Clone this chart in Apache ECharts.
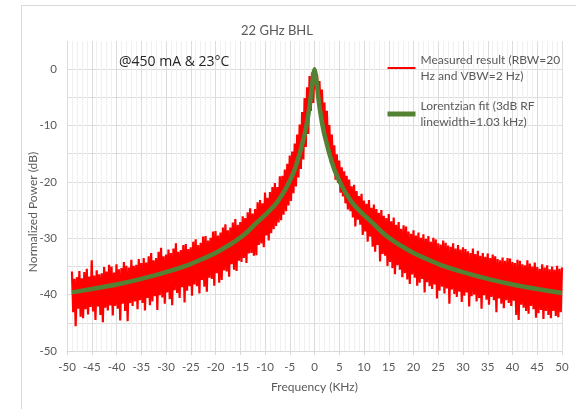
<!DOCTYPE html>
<html>
<head>
<meta charset="utf-8">
<script src="https://cdn.jsdelivr.net/npm/echarts@6/dist/echarts.min.js"></script>
<style>
html,body{margin:0;padding:0;background:#fff;}
#chart{width:576px;height:409px;}
</style>
</head>
<body>
<div id="chart"></div>
<script>
// ---- data ----
const chartTitle = '22 GHz BHL';
const note = '@450 mA & 23\u00B0C';
const xTitle = 'Frequency (KHz)';
const yTitle = 'Normalized Power (dB)';
const measuredName = 'Measured result (RBW=20\nHz and VBW=2 Hz)';
const fitName = 'Lorentzian fit (3dB RF\nlinewidth=1.03 kHz)';

// measured trace: first frequency and sample spacing (kHz)
const measuredStart = -49;
const measuredStep = 0.25;
// measured power (dB), one value every 0.25 kHz from -49 to 50 kHz
const measuredPower = [
-35.9,-43.1,-37.2,-45.6, -36.9,-42.5,-35.8,-43.9, -37.1,-44.2,-36.0,-42.6, -35.4,-43.5,-36.8,-42.2,
-33.9,-43.0,-36.6,-44.5, -35.7,-42.1,-36.4,-43.6, -36.2,-44.9,-35.1,-42.3, -35.9,-42.8,-34.7,-41.9,
-35.0,-43.7,-36.1,-42.0, -34.6,-42.5,-35.5,-44.6, -35.3,-41.6,-34.2,-42.9, -34.9,-44.7,-35.2,-41.5,
-33.8,-42.0,-34.9,-41.2, -34.7,-42.6,-33.7,-41.0, -34.4,-41.5,-33.5,-42.8, -34.3,-40.6,-33.2,-41.9,
-32.6,-41.2,-33.9,-40.3, -33.5,-42.7,-32.4,-40.1, -31.7,-40.5,-33.2,-41.6, -32.9,-39.6,-32.0,-40.8,
-32.6,-41.9,-31.8,-39.2, -30.9,-39.7,-32.4,-40.6, -32.1,-38.7,-31.2,-41.4, -31.0,-39.3,-31.9,-38.5,
-31.6,-40.2,-30.6,-38.2, -30.2,-38.5,-31.2,-39.8, -30.8,-37.4,-29.7,-38.6, -29.6,-39.5,-30.4,-37.0,
-29.9,-37.2,-28.8,-38.4, -28.7,-36.2,-29.5,-37.9, -29.0,-37.4,-28.1,-35.7, -27.5,-35.9,-28.6,-36.8,
-28.1,-34.6,-27.2,-35.6, -26.6,-35.8,-27.6,-34.0, -27.1,-34.2,-26.1,-33.5, -26.4,-34.4,-25.4,-32.7,
-24.7,-32.6,-25.6,-33.1, -24.8,-33.0,-23.6,-31.2, -23.2,-30.9,-23.8,-31.6, -21.9,-29.5,-22.8,-30.4,
-21.8,-29.1,-20.9,-28.4, -20.2,-27.8,-20.9,-27.2, -19.0,-26.8,-18.9,-25.8, -17.8,-25.2,-16.8,-24.2,
-15.3,-23.4,-14.6,-22.0, -13.2,-20.8,-11.6,-19.2, -9.8,-17.7,-7.6,-16.0, -5.1,-13.8,-3.2,-11.5,
-1.2,-7.4,-0.6,-6.0,
0,
-3.5,-0.8,-5.2,-2.1, -8.4,-3.6,-10.1,-5.9, -12.8,-7.4,-14.2,-9.9, -16.5,-11.6,-17.4,-13.5,
-19.6,-15.1,-20.2,-16.2, -21.9,-17.4,-22.6,-18.1, -23.8,-18.9,-24.9,-19.6, -25.2,-20.8,-26.3,-20.5,
-27.9,-21.6,-26.7,-22.5, -27.6,-22.1,-29.4,-23.3, -28.8,-23.9,-30.6,-23.2, -29.7,-24.6,-31.5,-24.0,
-32.4,-24.8,-31.2,-25.5, -34.1,-25.0,-32.8,-26.0, -33.1,-26.4,-34.9,-25.7, -34.2,-27.0,-35.3,-26.3,
-36.4,-27.6,-34.8,-27.1, -35.6,-28.3,-36.9,-27.7, -36.2,-27.9,-37.3,-28.8, -38.1,-29.2,-36.4,-28.6,
-37.0,-29.5,-38.4,-29.0, -37.9,-29.9,-37.2,-29.3, -39.6,-30.1,-37.8,-29.6, -38.5,-30.6,-39.0,-29.9,
-38.2,-30.2,-40.7,-30.9, -39.3,-31.1,-38.6,-30.4, -39.8,-30.8,-38.9,-31.3, -41.6,-31.5,-39.1,-30.9,
-39.9,-31.8,-40.4,-31.2, -39.5,-32.0,-41.3,-31.6, -40.2,-31.9,-39.6,-32.3, -42.1,-32.6,-40.3,-31.8,
-40.0,-32.8,-41.2,-32.2, -40.6,-33.1,-42.5,-32.6, -40.1,-33.3,-40.9,-32.7, -41.8,-33.5,-40.4,-32.9,
-41.0,-33.2,-43.1,-33.7, -40.7,-33.9,-41.6,-33.4, -42.4,-34.0,-41.0,-33.5, -41.5,-33.6,-42.0,-34.2,
-41.1,-34.4,-43.6,-33.8, -44.5,-34.0,-41.8,-34.6, -42.3,-34.8,-42.9,-33.9, -43.4,-34.5,-42.0,-35.0,
-42.6,-34.3,-44.1,-35.1, -43.3,-35.4,-42.7,-34.6, -44.3,-35.2,-42.9,-34.8, -43.6,-35.5,-44.2,-35.0,
-42.9,-35.6,-43.8,-34.9, -44.0,-35.4,-43.1,-35.2
];

// Lorentzian fit curve
const fitFreq = [-49,-45,-40,-35,-30,-26,-23,-20,-18,-16,-14,-12,-10,-8,-7,-6,-5,-4,-3,-2.5,-2,-1.5,-1,-0.75,-0.5,-0.25,
  0,0.25,0.5,0.75,1,1.5,2,2.5,3,4,5,6,7,8,10,12,14,16,18,20,23,26,30,35,40,45,50];
const fitPower = [-39.6,-39.0,-38.2,-37.2,-36.0,-34.9,-33.8,-32.6,-31.6,-30.5,-29.2,-27.5,-25.9,-24.1,-22.9,-21.5,-19.8,-17.8,-15.0,-13.3,-11.6,-9.4,-6.6,-4.9,-2.9,-1.0,
  0,-1.0,-2.9,-4.9,-6.6,-9.4,-11.6,-13.3,-15.0,-17.8,-19.8,-21.5,-22.9,-24.1,-25.9,-27.5,-29.2,-30.5,-31.6,-32.6,-33.8,-34.9,-36.0,-37.2,-38.2,-39.0,-39.7];

// axes
const xMin = -50, xMax = 50, xInterval = 5;
const yMin = -50, yMax = 5, yInterval = 5;

// ---- build ----
const measuredData = measuredPower.map((v, i) => [measuredStart + i * measuredStep, v]);
const fitData = fitFreq.map((f, i) => [f, fitPower[i]]);

const FONT = 'Lato, "Open Sans", sans-serif';
const GREY = '#595959';
const RED = '#ff0000';
const GREEN = '#548235';

const chart = echarts.init(document.getElementById('chart'), null, {renderer: 'canvas'});
chart.setOption({
  animation: false,
  backgroundColor: '#ffffff',
  title: {
    text: chartTitle,
    left: 272, top: 19,
    textAlign: 'center',
    textStyle: {fontFamily: FONT, fontSize: 13, fontWeight: 'normal', color: GREY}
  },
  grid: {left: 67, right: 14, top: 41, bottom: 58, containLabel: false},
  legend: {
    orient: 'vertical',
    left: 385, top: 44,
    padding: 0,
    itemGap: -2,
    itemWidth: 28, itemHeight: 14,
    itemStyle: {color: 'rgba(0,0,0,0)', borderWidth: 0, opacity: 0},
    data: [
      {name: measuredName, lineStyle: {color: RED, width: 2}},
      {name: fitName, lineStyle: {color: GREEN, width: 5}}
    ],
    textStyle: {fontFamily: FONT, fontSize: 12, color: GREY, lineHeight: 16, padding: [16, 0, 0, 0]}
  },
  xAxis: {
    type: 'value', min: xMin, max: xMax, interval: xInterval,
    name: xTitle, nameLocation: 'middle', nameGap: 30,
    nameTextStyle: {fontFamily: FONT, fontSize: 12, color: GREY},
    axisLine: {show: true, onZero: false, lineStyle: {color: '#d9d9d9', width: 1}},
    axisTick: {show: true, length: 4, lineStyle: {color: '#d9d9d9'}},
    axisLabel: {fontFamily: FONT, fontSize: 11.5, color: GREY, margin: 10},
    splitLine: {show: true, lineStyle: {color: '#dcdcdc', width: 1}},
    minorTick: {show: false, splitNumber: 5},
    minorSplitLine: {show: true, lineStyle: {color: '#f0f0f0', width: 1}}
  },
  yAxis: {
    type: 'value', min: yMin, max: yMax, interval: yInterval,
    axisLine: {show: true, lineStyle: {color: '#d9d9d9', width: 1}},
    axisTick: {show: false},
    axisLabel: {fontFamily: FONT, fontSize: 11.5, color: GREY, margin: 10,
      formatter: v => (v % 10 === 0 && v <= 0 ? String(v) : '')},
    splitLine: {show: true, showMaxLine: false, lineStyle: {color: '#dcdcdc', width: 1}}
  },
  graphic: [
    {type: 'rect', silent: true, z: -10,
      shape: {x: 21.5, y: 5.5, width: 700, height: 500},
      style: {fill: 'none', stroke: '#d9d9d9', lineWidth: 1}},
    {type: 'text', x: 119, y: 62, silent: true, z: 10,
      style: {text: note, fontFamily: '"Open Sans", sans-serif', fontSize: 14, fill: '#262626', verticalAlign: 'middle'}},
    {type: 'text', x: 33, y: 212, rotation: Math.PI / 2, silent: true,
      style: {text: yTitle, fontFamily: FONT, fontSize: 12, fill: GREY, align: 'center', verticalAlign: 'middle'}}
  ],
  series: [
    {
      name: measuredName, type: 'line', data: measuredData,
      showSymbol: false, symbol: 'none', sampling: null,
      lineStyle: {color: RED, width: 2.2},
      itemStyle: {color: RED},
      z: 2
    },
    {
      name: fitName, type: 'line', data: fitData,
      showSymbol: false, symbol: 'none', smooth: 0.2,
      lineStyle: {color: GREEN, width: 4.5},
      itemStyle: {color: GREEN},
      z: 3
    }
  ]
});
</script>
</body>
</html>
